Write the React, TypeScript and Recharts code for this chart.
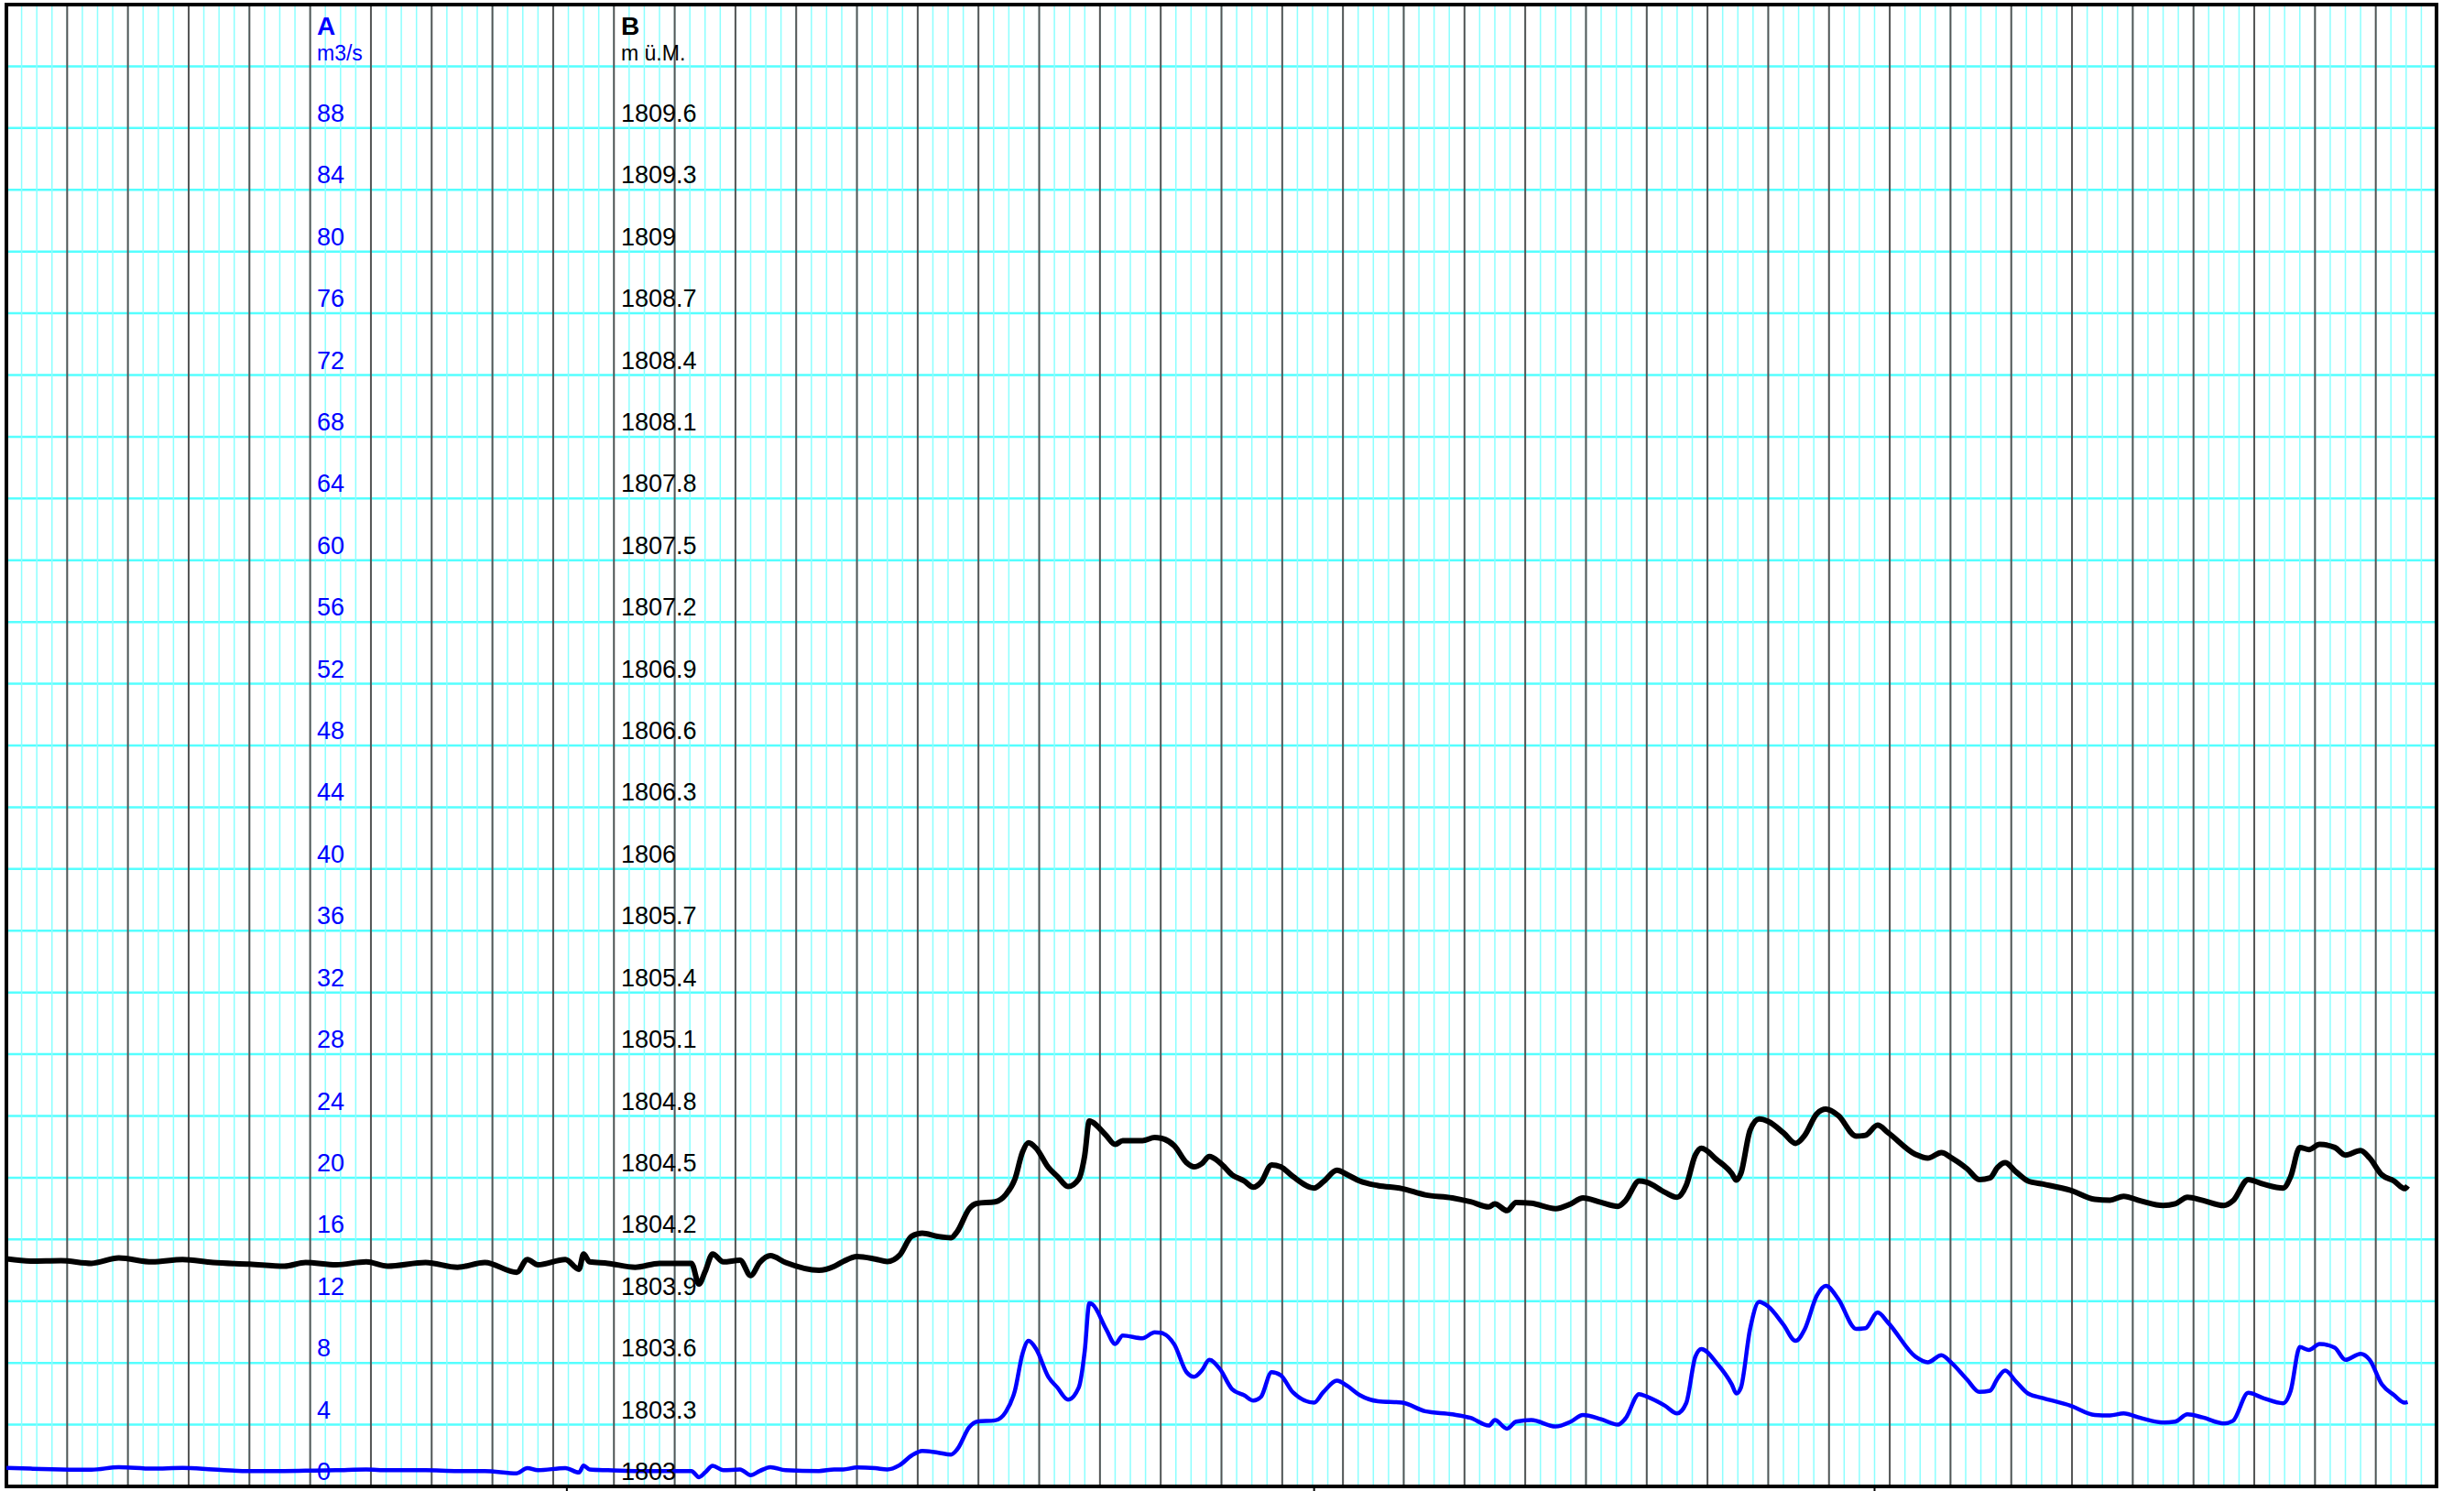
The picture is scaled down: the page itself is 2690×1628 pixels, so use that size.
import React from 'react';
import { LineChart, Line, XAxis, YAxis, CartesianGrid, ReferenceArea } from 'recharts';

// time axis in grid units (160 minor divisions, 40 major divisions)
const TIME = [
  0, 1.6, 3.6, 5.6, 7.4, 9.6, 11.6, 13.6, 16, 18.3,
  19.7, 21.7, 23.7, 25.1, 27.6, 29.7, 31.5, 33.6, 34.3, 35,
  36.8, 37.7, 38, 38.4, 39.6, 41.4, 43, 45.1, 45.6, 46,
  46.5, 47.2, 48.3, 49, 49.6, 50.3, 51.3, 53.5, 54.5, 55.1,
  56, 57.2, 58, 58.8, 59.6, 60.3, 61.3, 62.2, 62.6, 63.4,
  63.9, 65.1, 65.8, 66.4, 66.9, 67.3, 67.8, 68.6, 69.2, 69.9,
  70.6, 71, 71.3, 71.5, 72.4, 73, 73.5, 74.8, 75.6, 76,
  76.9, 77.7, 78.2, 78.7, 79.2, 79.9, 80.7, 81.5, 82.1, 82.6,
  83.3, 83.9, 84.7, 86.1, 86.7, 87.6, 88.3, 89.1, 90.3, 91.9,
  93.4, 95.2, 96.4, 97.6, 98, 98.8, 99.4, 100.4, 102, 103,
  103.8, 105, 106.1, 106.6, 107.5, 108, 109.2, 110, 110.6, 111.2,
  111.6, 112.6, 113.6, 113.9, 114.2, 114.8, 115.4, 116, 117, 117.8,
  118.4, 119.2, 119.8, 120.6, 121.8, 122.4, 123.2, 123.9, 125.7, 126.5,
  127.4, 128.1, 129.1, 129.9, 130.6, 131.1, 131.6, 132.3, 133.1, 134.1,
  135.9, 137.5, 138.5, 139.4, 140.5, 142, 142.8, 143.6, 144.6, 146,
  146.6, 147.6, 148.6, 149.9, 150.4, 151, 151.6, 152.3, 153.3, 154,
  155, 155.6, 156.4, 157.2, 157.9, 158.1,
];

// A: discharge m3/s (blue)
const DISCHARGE = [
  1.2, 1.15, 1.1, 1.08, 1.25, 1.15, 1.2, 1.1, 0.99, 1.0,
  1.02, 1.05, 1.1, 1.05, 1.05, 1.0, 1.0, 0.85, 1.19, 1.05,
  1.19, 0.9, 1.35, 1.1, 1.05, 1.0, 1.0, 1.0, 0.6, 0.9,
  1.33, 1.05, 1.1, 0.73, 1.0, 1.25, 1.05, 1.0, 1.1, 1.1,
  1.23, 1.18, 1.1, 1.37, 2.0, 2.3, 2.2, 2.06, 2.4, 3.84,
  4.2, 4.28, 4.83, 6.2, 8.6, 9.43, 8.9, 7.1, 6.4, 5.62,
  6.4, 8.8, 11.86, 11.8, 10.2, 9.23, 9.78, 9.6, 9.98, 9.95,
  9.19, 7.4, 7.1, 7.5, 8.2, 7.6, 6.3, 5.9, 5.56, 5.8,
  7.4, 7.2, 6.1, 5.43, 6.1, 6.85, 6.5, 5.92, 5.52, 5.43,
  4.87, 4.67, 4.44, 3.94, 4.3, 3.74, 4.2, 4.3, 3.88, 4.2,
  4.63, 4.35, 4.0, 4.4, 5.98, 5.82, 5.23, 4.73, 5.4, 8.4,
  8.9, 8.0, 6.61, 6.02, 6.4, 10.18, 11.96, 11.66, 10.48, 9.43,
  10.18, 12.36, 12.99, 12.16, 10.2, 10.25, 11.27, 10.6, 8.4, 8.04,
  8.5, 7.97, 6.91, 6.12, 6.2, 7.0, 7.5, 6.81, 6.02, 5.72,
  5.23, 4.63, 4.6, 4.73, 4.44, 4.14, 4.2, 4.67, 4.47, 4.08,
  4.25, 6.06, 5.72, 5.39, 6.2, 9.03, 8.84, 9.23, 8.99, 8.2,
  8.59, 8.2, 6.61, 5.92, 5.43, 5.47,
];

// B: water level m ü.M. (black)
const LEVEL = [
  1804.106, 1804.095, 1804.097, 1804.084, 1804.110, 1804.091, 1804.103, 1804.088, 1804.080, 1804.070,
  1804.088, 1804.077, 1804.091, 1804.070, 1804.088, 1804.065, 1804.088, 1804.040, 1804.103, 1804.077,
  1804.103, 1804.055, 1804.129, 1804.091, 1804.084, 1804.065, 1804.084, 1804.084, 1803.983, 1804.043,
  1804.129, 1804.091, 1804.099, 1804.025, 1804.088, 1804.121, 1804.088, 1804.050, 1804.069, 1804.093,
  1804.117, 1804.105, 1804.093, 1804.123, 1804.215, 1804.230, 1804.215, 1804.208, 1804.238, 1804.350,
  1804.375, 1804.383, 1804.418, 1804.493, 1804.625, 1804.670, 1804.643, 1804.550, 1804.506, 1804.457,
  1804.493, 1804.610, 1804.776, 1804.770, 1804.706, 1804.662, 1804.680, 1804.680, 1804.695, 1804.692,
  1804.655, 1804.573, 1804.553, 1804.568, 1804.603, 1804.573, 1804.514, 1804.484, 1804.454, 1804.478,
  1804.562, 1804.553, 1804.506, 1804.450, 1804.480, 1804.536, 1804.514, 1804.484, 1804.462, 1804.447,
  1804.417, 1804.402, 1804.383, 1804.358, 1804.373, 1804.340, 1804.380, 1804.376, 1804.350, 1804.373,
  1804.402, 1804.380, 1804.361, 1804.388, 1804.484, 1804.478, 1804.429, 1804.405, 1804.463, 1804.610,
  1804.643, 1804.588, 1804.521, 1804.488, 1804.521, 1804.729, 1804.785, 1804.773, 1804.718, 1804.667,
  1804.706, 1804.811, 1804.833, 1804.803, 1804.702, 1804.706, 1804.755, 1804.718, 1804.613, 1804.595,
  1804.622, 1804.595, 1804.543, 1804.491, 1804.499, 1804.550, 1804.573, 1804.529, 1804.484, 1804.469,
  1804.439, 1804.395, 1804.391, 1804.410, 1804.388, 1804.365, 1804.373, 1804.405, 1804.390, 1804.365,
  1804.388, 1804.491, 1804.469, 1804.450, 1804.506, 1804.647, 1804.637, 1804.662, 1804.647, 1804.610,
  1804.632, 1804.595, 1804.514, 1804.484, 1804.447, 1804.461,
];

const A_TICKS = [0, 4, 8, 12, 16, 20, 24, 28, 32, 36, 40, 44, 48, 52, 56, 60, 64, 68, 72, 76, 80, 84, 88, 92, 96];
const A_LABEL_MAX = 88;
const B_TICKS = [
  1803, 1803.3, 1803.6, 1803.9, 1804.2, 1804.5, 1804.8, 1805.1, 1805.4, 1805.7, 1806, 1806.3,
  1806.6, 1806.9, 1807.2, 1807.5, 1807.8, 1808.1, 1808.4, 1808.7, 1809, 1809.3, 1809.6,
];
const MINOR_TICKS = Array.from({ length: 161 }, (_, i) => i);
const MAJOR_TICKS = Array.from({ length: 41 }, (_, i) => i * 4);
const MARK_TICKS = [36.9, 86.1, 123];

const A_TITLE = 'A';
const A_UNIT = 'm3/s';
const B_TITLE = 'B';
const B_UNIT = 'm ü.M.';

const data = TIME.map((t, i) => ({ t, q: DISCHARGE[i], h: LEVEL[i] }));

const FONT = "'Liberation Sans', Arial, Helvetica, sans-serif";
const BLUE = '#0000FF';
const A_COL_X = 346;
const B_COL_X = 678;

const EmptyTick = () => <g />;

const ATick = (props: any) => {
  const { y, payload } = props;
  if (payload.value > A_LABEL_MAX) return <g />;
  return (
    <text x={A_COL_X} y={y - 7} fill={BLUE} fontSize={27} fontFamily={FONT}>
      {String(payload.value)}
    </text>
  );
};

const BTick = (props: any) => {
  const { y, payload } = props;
  return (
    <text x={B_COL_X} y={y - 7} fill="#000" fontSize={27} fontFamily={FONT}>
      {String(payload.value)}
    </text>
  );
};

const Header = (col: number, title: string, unit: string, color: string) => () => (
  <g>
    <text x={col} y={38} fill={color} fontSize={28} fontWeight="bold" fontFamily={FONT}>{title}</text>
    <text x={col} y={66} fill={color} fontSize={23} fontFamily={FONT}>{unit}</text>
  </g>
);

export default function App() {
  return (
    <div style={{ position: 'absolute', left: 0, top: 0, background: '#fff' }}>
      <LineChart width={2690} height={1628} data={data} margin={{ top: 5, right: 29, bottom: 4, left: 6 }}>
        <XAxis dataKey="t" type="number" domain={[0, 160]} ticks={MINOR_TICKS} interval={0} tick={<EmptyTick />} tickLine={false} axisLine={false} height={0} allowDataOverflow />
        <XAxis xAxisId="major" dataKey="t" type="number" domain={[0, 160]} ticks={MAJOR_TICKS} interval={0} tick={<EmptyTick />} tickLine={false} axisLine={false} height={0} allowDataOverflow />
        <XAxis xAxisId="marks" dataKey="t" type="number" domain={[0, 160]} ticks={MARK_TICKS} interval={0} tick={<EmptyTick />} axisLine={false} tickLine={{ stroke: '#000', strokeWidth: 2 }} tickSize={6} height={1} allowDataOverflow />
        <YAxis yAxisId="A" orientation="left" type="number" domain={[0, 96]} ticks={A_TICKS} interval={0} width={1} axisLine={false} tickLine={false} tick={<ATick />} allowDataOverflow
          label={{ content: Header(A_COL_X, A_TITLE, A_UNIT, BLUE) }} />
        <YAxis yAxisId="B" orientation="right" type="number" domain={[1803, 1810.2]} ticks={B_TICKS} interval={0} width={1} axisLine={false} tickLine={false} tick={<BTick />} allowDataOverflow
          label={{ content: Header(B_COL_X, B_TITLE, B_UNIT, '#000') }} />
        <CartesianGrid yAxisId="A" vertical={false} stroke="#55FFFF" strokeWidth={2.5} />
        <CartesianGrid yAxisId="A" horizontal={false} stroke="#8CFFFF" strokeWidth={1.5} />
        <CartesianGrid yAxisId="A" xAxisId="major" horizontal={false} stroke="#555555" strokeWidth={2} />
        <Line yAxisId="B" dataKey="h" type="monotone" stroke="#000" strokeWidth={6} dot={false} isAnimationActive={false} />
        <Line yAxisId="A" dataKey="q" type="monotone" stroke={BLUE} strokeWidth={4.5} dot={false} isAnimationActive={false} />
        <ReferenceArea yAxisId="A" x1={0} x2={160} y1={0} y2={96} fill="none" fillOpacity={0} stroke="#000" strokeWidth={4} ifOverflow="visible" />
      </LineChart>
    </div>
  );
}
